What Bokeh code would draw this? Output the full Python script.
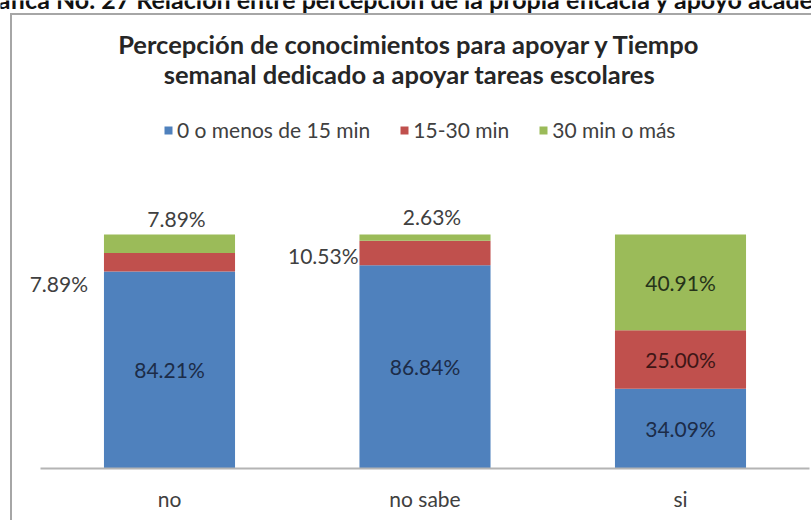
from bokeh.plotting import figure
from bokeh.models import ColumnDataSource, Range1d, FixedTicker, Label
from bokeh.core.properties import value
from bokeh.embed import file_html
from bokeh.resources import INLINE

# ---------------- data ----------------
categories = ["no", "no sabe", "si"]
series = ["0 o menos de 15 min", "15-30 min", "30 min o más"]
v_low = [84.21, 86.84, 34.09]
v_mid = [7.89, 10.53, 25.00]
v_high = [7.89, 2.63, 40.91]
title_lines = ["Percepción de conocimientos para apoyar y Tiempo",
               "semanal dedicado a apoyar tareas escolares"]
header = "Gráfica No. 27 Relación entre percepción de la propia eficacia y apoyo académico"

# ---------------- style ----------------
colors = ["#4f81bd", "#c0504d", "#9bbb59"]
inside_text_colors = ["#1c2c48", "#3e1616", "#26331a"]
FONT = "Lato"
W, H = 811, 520
FRAME_H = 468
CAT_PX = 255.5
X0_PX = 169
PX_PER_PCT = 2.34
BAR_W = 0.513
BOX = "#a6a6a6"

x_start = -X0_PX / CAT_PX
x_end = (W - X0_PX) / CAT_PX
y_end = FRAME_H / PX_PER_PCT


def cx(px):
    return (px - X0_PX) / CAT_PX


def cy(py):
    return (FRAME_H - py) / PX_PER_PCT


# chart box border painted behind a transparent canvas (left and top edges)
box_css = (f"linear-gradient({BOX},{BOX}) 10px 13px / 2px 600px no-repeat, "
           f"linear-gradient({BOX},{BOX}) 10px 13px / 900px 2px no-repeat, white")

p = figure(width=W, height=H, x_range=Range1d(x_start, x_end), y_range=Range1d(0, y_end),
           output_backend="svg", toolbar_location=None, y_axis_location=None,
           min_border_left=0, min_border_right=0, min_border_top=0,
           min_border_bottom=H - FRAME_H, styles={"background": box_css})
p.outline_line_color = None
p.xgrid.visible = False
p.ygrid.visible = False
p.background_fill_color = None
p.border_fill_color = None

xs = list(range(len(categories)))
src = ColumnDataSource(data={"x": xs, series[0]: v_low, series[1]: v_mid, series[2]: v_high})
p.vbar_stack(series, x="x", width=BAR_W, color=colors, line_color=None, source=src,
             legend_label=series)

# x axis
ax = p.xaxis[0]
ax.ticker = FixedTicker(ticks=xs)
ax.major_label_overrides = {i: c for i, c in enumerate(categories)}
ax.bounds = (cx(40), cx(809))
ax.axis_line_color = "#b4b4b4"
ax.axis_line_width = 2
ax.major_tick_line_color = None
ax.minor_tick_line_color = None
ax.major_tick_out = 0
ax.major_tick_in = 0
ax.major_label_standoff = 17
ax.major_label_text_font = FONT
ax.major_label_text_font_size = "21px"
ax.major_label_text_color = "#404040"

# data labels
lx, ly, lt, la, lxo, lyo, lc = [], [], [], [], [], [], []
# labels placed outside the bar: (kind, dx px, dy px; +dy = down)
outside = {
    (0, 1): ("left", -16, 21),
    (0, 2): ("above", 7, -16),
    (1, 1): ("left", -1, 3),
    (1, 2): ("above", 7, -18),
}
stacks = [v_low, v_mid, v_high]
for i in xs:
    base = 0.0
    total = sum(s[i] for s in stacks)
    for k, s in enumerate(stacks):
        val = s[i]
        mid = base + val / 2
        txt = f"{val:.2f}%"
        if (i, k) in outside:
            kind, dx, dy = outside[(i, k)]
            if kind == "left":
                lx.append(i - BAR_W / 2); ly.append(mid); la.append("right")
            else:
                lx.append(i); ly.append(total); la.append("center")
            lxo.append(dx); lyo.append(dy); lc.append("#404040")
        else:
            lx.append(i); ly.append(mid); la.append("center")
            lxo.append(0); lyo.append(0); lc.append(inside_text_colors[k])
        lt.append(txt)
        base += val

lsrc = ColumnDataSource(data=dict(x=lx, y=ly, text=lt, align=la, xo=lxo, yo=lyo, c=lc))
p.text(x="x", y="y", text="text", text_align="align", x_offset="xo", y_offset="yo",
       text_color="c", text_baseline="middle", text_font=value(FONT),
       text_font_size="21px", source=lsrc)

# legend
lg = p.legend[0]
lg.orientation = "horizontal"
lg.location = (163, FRAME_H - 132 - 10)
lg.margin = 0
lg.padding = 0
lg.spacing = 29
lg.label_standoff = 4
lg.glyph_width = 10
lg.glyph_height = 10
lg.label_height = 10
lg.label_text_font = FONT
lg.label_text_font_size = "21px"
lg.label_text_color = "#404040"
lg.label_text_baseline = "middle"
lg.border_line_color = None
lg.background_fill_alpha = 0

# title lines
for line, py in zip(title_lines, [43, 73]):
    p.add_layout(Label(x=cx(409), y=cy(py), text=line, text_align="center",
                       text_baseline="middle", text_font=FONT, text_font_size="25.5px",
                       text_font_style="bold", text_color="#262626"))

# cropped header above the chart box
p.add_layout(Label(x=cx(-30), y=cy(-2), text=header, text_align="left",
                   text_baseline="alphabetic", text_font=FONT, text_font_size="25px",
                   text_font_style="bold", text_color="#111111"))

open("out.html", "w").write(file_html(p, INLINE))
